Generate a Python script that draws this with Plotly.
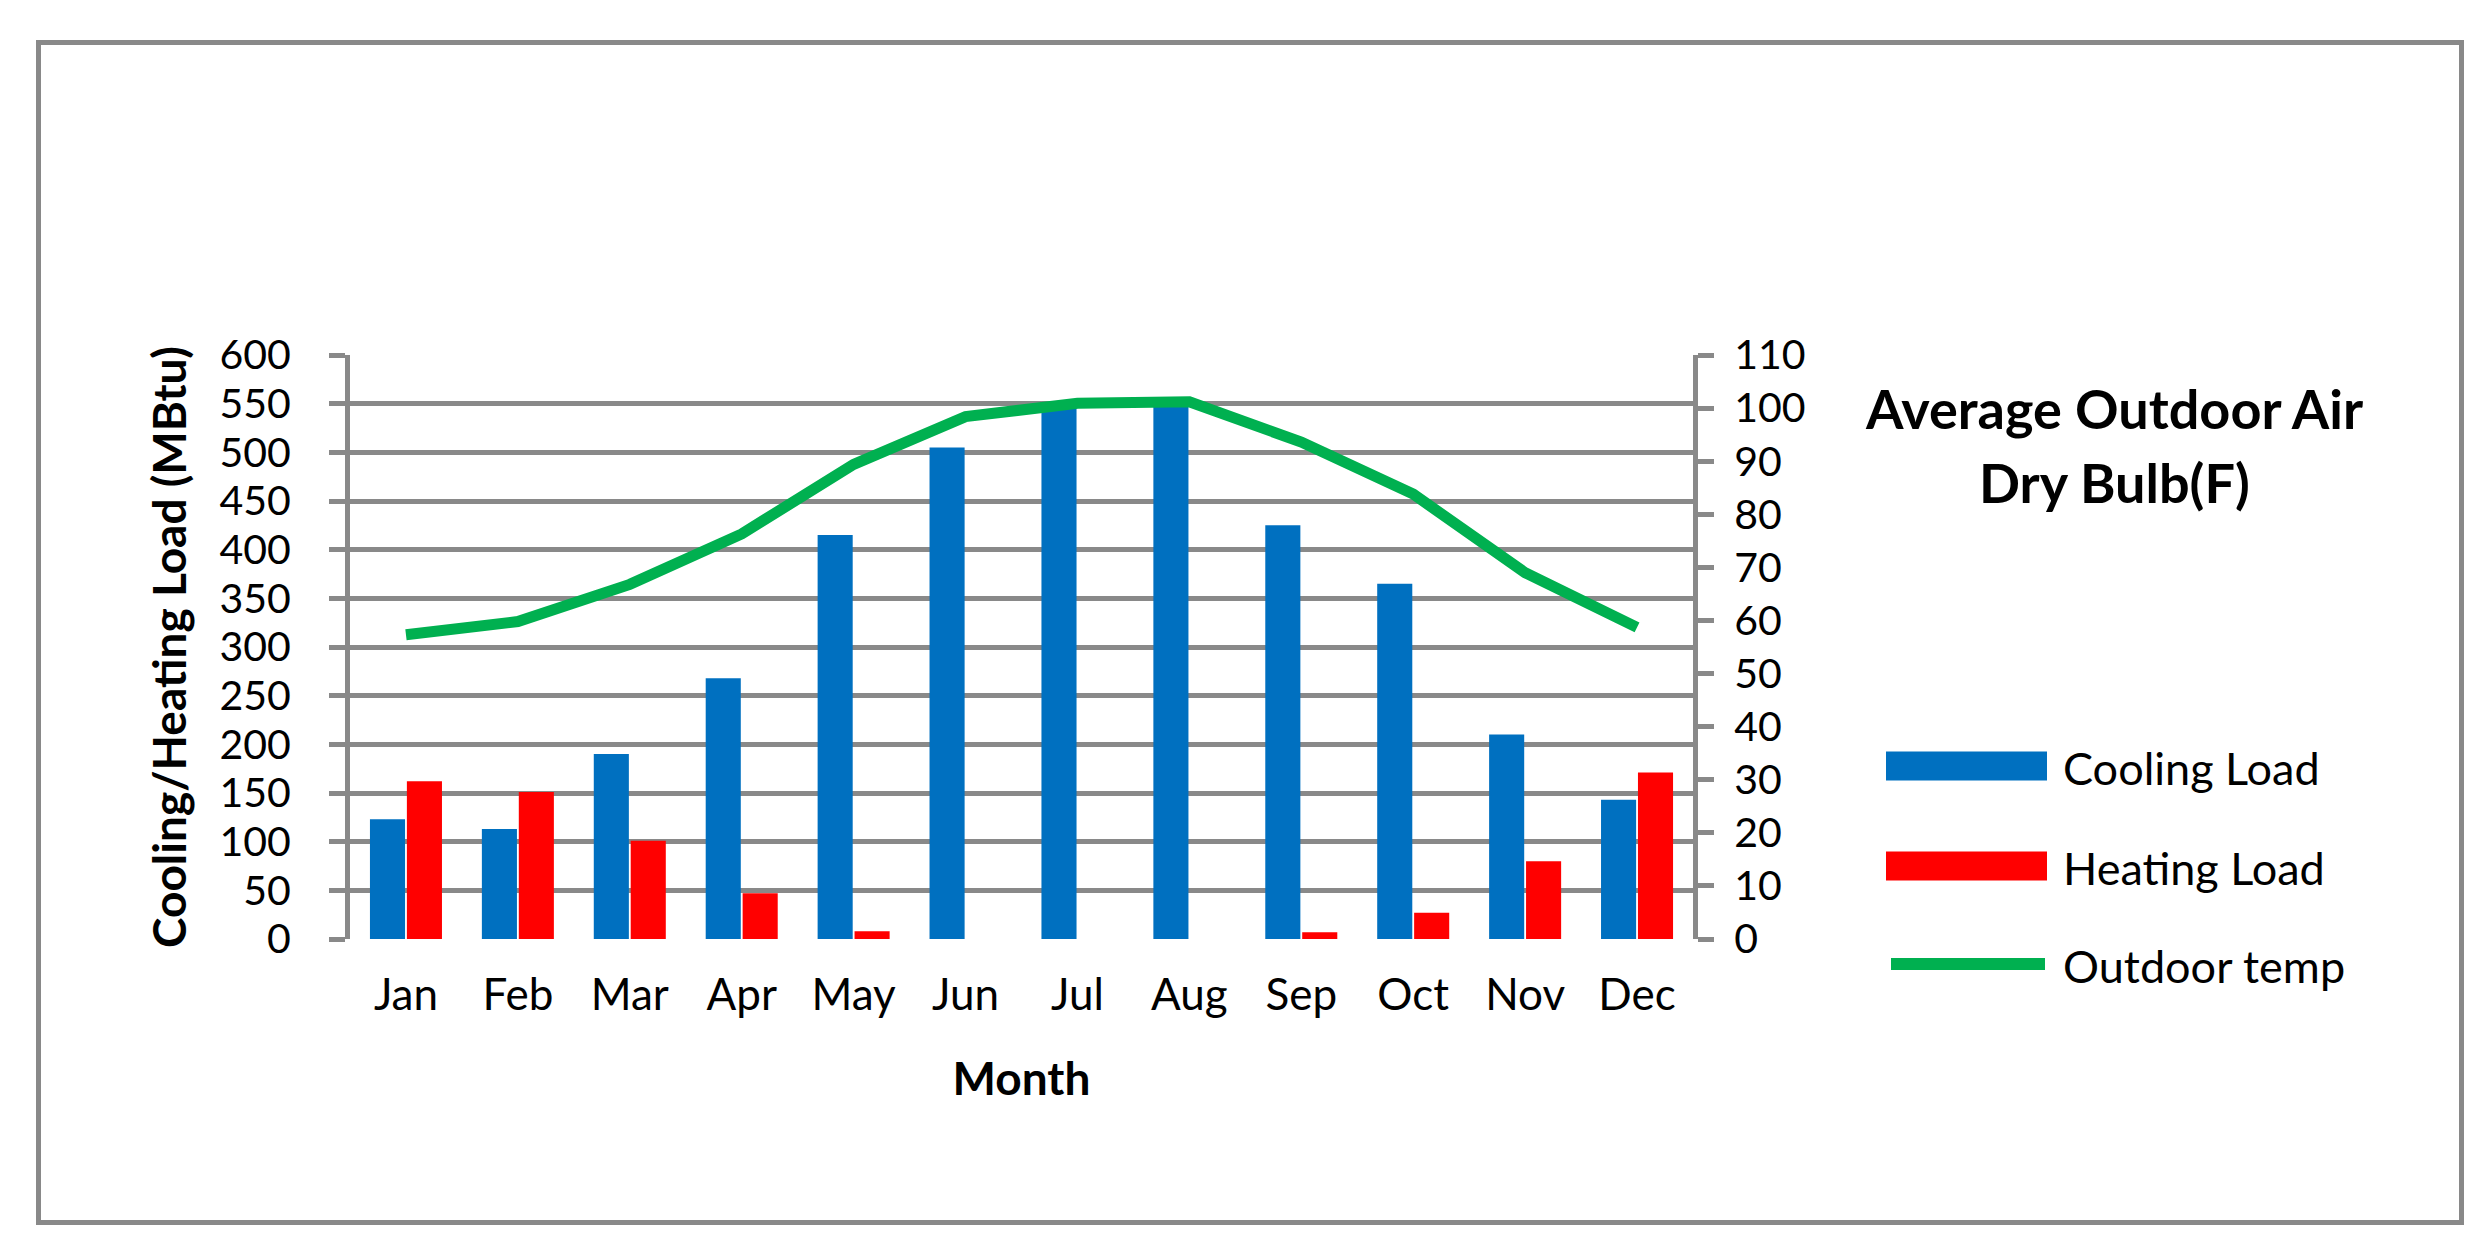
import plotly.graph_objects as go

months = ["Jan", "Feb", "Mar", "Apr", "May", "Jun", "Jul", "Aug", "Sep", "Oct", "Nov", "Dec"]
cooling_load = [123, 113, 190, 268, 415, 505, 548, 550, 425, 365, 210, 143]
heating_load = [162, 151, 101, 47, 8, 0, 0, 0, 7, 27, 80, 171]
outdoor_temp = [57.3, 59.8, 66.8, 76.3, 89.4, 98.4, 100.9, 101.2, 93.6, 83.8, 69.0, 58.7]
series_names = ["Cooling Load", "Heating Load", "Outdoor temp"]
series_colors = ["#0070C0", "#FF0000", "#00B050"]
left_ticks = list(range(0, 601, 50))
right_ticks = list(range(0, 111, 10))
title_lines = ["Average Outdoor Air", "Dry Bulb(F)"]

W, H = 2491, 1247
L, R, T, B = 342, 1685, 347, 931
GRAY = "#898989"
FONT = "Lato"

pw, ph = R - L, B - T
def px_x(v):
    return (v - L) / pw
def px_y(v):
    return (B - v) / ph

fig = go.Figure()
fig.add_trace(go.Bar(x=months, y=cooling_load, name=series_names[0],
                     marker=dict(color=series_colors[0], line=dict(width=0)),
                     showlegend=False))
fig.add_trace(go.Bar(x=months, y=heating_load, name=series_names[1],
                     marker=dict(color=series_colors[1], line=dict(width=0)),
                     showlegend=False))
fig.add_trace(go.Scatter(x=months, y=outdoor_temp, name=series_names[2], yaxis="y2",
                         mode="lines", line=dict(color=series_colors[2], width=11),
                         showlegend=False))

# legend drawn as layout decorations (swatches + labels)
shapes = [dict(type="rect", xref="paper", yref="paper",
               x0=px_x(30.5), x1=px_x(2453.5), y0=px_y(1214.5), y1=px_y(34.5),
               line=dict(color=GRAY, width=5), fillcolor="rgba(0,0,0,0)", layer="below")]
annotations = []
leg_y = [758, 858, 956]
for i, (nm, col) in enumerate(zip(series_names, series_colors)):
    if i < 2:
        shapes.append(dict(type="rect", xref="paper", yref="paper",
                           x0=px_x(1878), x1=px_x(2039),
                           y0=px_y(leg_y[i] + 14.5), y1=px_y(leg_y[i] - 14.5),
                           line=dict(width=0), fillcolor=col))
    else:
        shapes.append(dict(type="line", xref="paper", yref="paper",
                           x0=px_x(1883), x1=px_x(2037),
                           y0=px_y(leg_y[i]), y1=px_y(leg_y[i]),
                           line=dict(color=col, width=12)))
    annotations.append(dict(text=nm, xref="paper", yref="paper",
                            x=px_x(2053), y=px_y(leg_y[i] + 2), xanchor="left", yanchor="middle",
                            showarrow=False, font=dict(size=45, family=FONT, color="black")))

title_y = [400, 474]
for txt, ty in zip(title_lines, title_y):
    annotations.append(dict(text="<b>" + txt + "</b>", xref="paper", yref="paper",
                            x=px_x(2106), y=px_y(ty), xanchor="center", yanchor="middle",
                            showarrow=False, font=dict(size=54, family=FONT, color="black")))

fig.update_layout(
    width=W, height=H,
    margin=dict(l=L, r=W - R, t=T, b=H - B, pad=0),
    paper_bgcolor="white", plot_bgcolor="white",
    barmode="group", bargap=0.34, bargroupgap=0.05,
    font=dict(family=FONT, color="black", size=40),
    showlegend=False,
    xaxis=dict(
        tickvals=months, ticks="", showgrid=False, showline=False,
        tickfont=dict(size=44), ticklabelstandoff=26,
        title=dict(text="<b>Month</b>", font=dict(size=46), standoff=44),
    ),
    yaxis=dict(
        range=[0, 600], tickvals=left_ticks, ticks="outside", ticklen=16,
        tickwidth=5, tickcolor=GRAY, showgrid=True, gridcolor=GRAY, gridwidth=5,
        showline=True, linecolor=GRAY, linewidth=5, zeroline=False,
        tickfont=dict(size=41), ticklabelstandoff=30,
        title=dict(text="<b>Cooling/Heating Load (MBtu)</b>", font=dict(size=46), standoff=20),
    ),
    yaxis2=dict(
        range=[0, 110], tickvals=right_ticks, overlaying="y", side="right",
        ticks="outside", ticklen=16, tickwidth=5, tickcolor=GRAY,
        showgrid=False, showline=True, linecolor=GRAY, linewidth=5, zeroline=False,
        tickfont=dict(size=41), ticklabelstandoff=12,
    ),
    shapes=shapes,
    annotations=annotations,
)

fig.write_html("out.html")
